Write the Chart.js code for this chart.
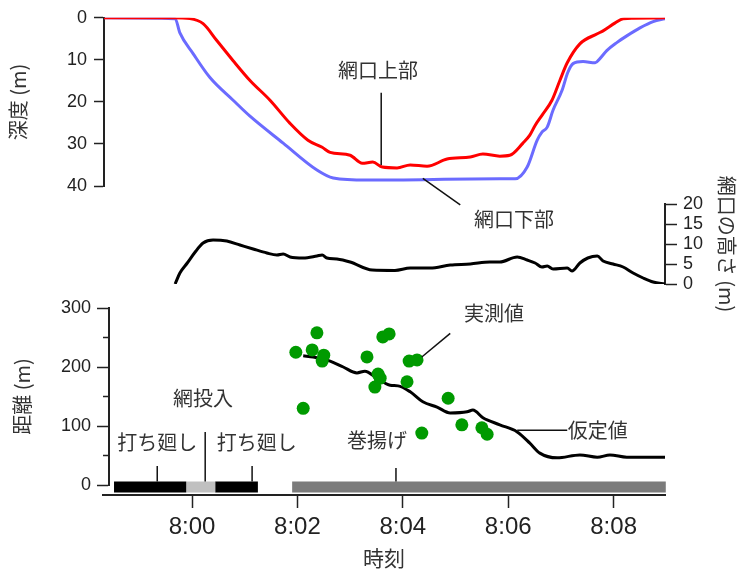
<!DOCTYPE html>
<html lang="ja">
<head>
<meta charset="UTF-8">
<title>網口の深度・高さ・距離</title>
<script src="https://cdn.jsdelivr.net/npm/chart.js"></script>
<style>
  body { margin: 0; background: #fff; }
  #wrap { position: relative; width: 745px; height: 571px; }
  #wrap canvas { position: absolute; left: 0; }
</style>
</head>
<body>
<div id="wrap">
  <canvas id="depthChart" width="745" height="230" style="top:0"></canvas>
  <canvas id="heightChart" width="745" height="170" style="top:150px"></canvas>
  <canvas id="distChart" width="745" height="220" style="top:290px"></canvas>
  <canvas id="timeAxis" width="745" height="131" style="top:440px"></canvas>
</div>
<script>
// time is in minutes after 8:00

// depth of the net mouth (m)
const upperTime  = [-1.67, -0.36, -0.04, 0.21, 0.47, 0.78, 1.10, 1.48, 1.86, 2.20, 2.47, 2.62, 3.00, 3.23, 3.43, 3.61, 3.89, 4.14, 4.46, 4.84, 5.28, 5.52, 5.84, 6.03, 6.28, 6.41, 6.51, 6.64, 6.83, 6.98, 7.12, 7.36, 7.69, 7.80, 8.03, 8.18, 8.37, 8.975];
const upperDepth = [0, 0, 0.2, 1.4, 5.4, 10.2, 14.9, 19.6, 25.1, 29.1, 30.8, 32.0, 32.7, 34.6, 34.3, 35.5, 35.7, 35.0, 35.3, 33.6, 33.1, 32.4, 32.9, 32.7, 29.8, 27.9, 25.6, 23.2, 19.6, 14.9, 10.7, 6.2, 3.8, 3.1, 1.2, 0.2, 0.1, 0];
const lowerTime  = [-1.67, -0.32, -0.23, 0.02, 0.34, 0.78, 1.10, 1.73, 2.37, 2.68, 3.32, 5.84, 6.13, 6.36, 6.55, 6.64, 6.74, 6.85, 7.02, 7.13, 7.23, 7.42, 7.65, 7.74, 7.87, 8.06, 8.25, 8.50, 8.75, 8.975];
const lowerDepth = [0, 0.2, 3.6, 8.5, 14.2, 19.6, 23.4, 29.8, 36.2, 38.1, 38.6, 38.3, 38.3, 35.5, 29.1, 27.2, 26.0, 22.0, 17.3, 13.0, 10.9, 10.4, 10.7, 9.7, 7.8, 5.9, 4.3, 2.4, 0.9, 0.2];

// height of the net mouth (m)
const heightTime  = [-0.32, -0.23, -0.09, 0.06, 0.21, 0.40, 0.66, 0.91, 1.16, 1.42, 1.61, 1.73, 1.86, 2.11, 2.37, 2.47, 2.56, 2.75, 3.00, 3.42, 3.85, 4.14, 4.52, 4.90, 5.28, 5.65, 5.84, 6.17, 6.36, 6.51, 6.64, 6.74, 6.85, 7.12, 7.21, 7.36, 7.51, 7.69, 7.80, 7.99, 8.18, 8.37, 8.56, 8.75, 8.975];
const heightValue = [0, 2.75, 5.25, 8.0, 10.25, 11.0, 10.75, 9.75, 8.75, 7.75, 7.25, 7.5, 6.75, 6.5, 7.0, 7.25, 6.5, 6.25, 5.5, 3.5, 3.4, 4.0, 4.0, 4.75, 5.0, 5.5, 5.5, 6.75, 6.0, 5.25, 4.25, 4.5, 3.75, 4.0, 3.25, 5.25, 6.5, 7.0, 5.75, 5.0, 4.25, 2.75, 1.5, 0.5, 0];

// distance (m)
const measTime = [1.97, 2.11, 2.28, 2.37, 2.47, 2.50, 3.32, 3.47, 3.53, 3.57, 3.62, 3.74, 4.08, 4.12, 4.27, 4.36, 4.86, 5.12, 5.50, 5.60];
const measDist = [225, 130, 229, 258, 210, 220, 217, 166, 188, 181, 251, 256, 175, 210, 212, 88, 147, 102, 97, 86];
const assumedTime = [2.11, 2.30, 2.62, 2.87, 3.13, 3.28, 3.51, 3.76, 3.91, 4.14, 4.38, 4.65, 4.90, 5.22, 5.33, 5.52, 5.84, 6.17, 6.41, 6.60, 6.93, 7.36, 7.69, 7.93, 8.25, 8.63, 8.975];
const assumedDist = [219, 217, 210, 200, 190, 193, 181, 169, 168, 158, 141, 132, 122, 124, 127, 114, 102, 90, 71, 54, 46, 51, 47, 51, 47, 47, 47];

// operation phases along the time axis
const phaseName  = ['打ち廻し', '網投入', '打ち廻し', '巻揚げ'];
const phaseStart = [-1.48, -0.11, 0.44, 1.90];
const phaseEnd   = [-0.11, 0.44, 1.25, 8.99];

const xTickTimes  = [0, 2, 4, 6, 8];
const xTickLabels = ['8:00', '8:02', '8:04', '8:06', '8:08'];

// ---- styling / layout ----
const ink = '#222';
const textInk = '#333';
const numFont = { family: '"Liberation Sans", Arial, sans-serif', size: 18 };
const jpFont = { family: '"Noto Sans CJK JP", sans-serif', size: 20 };
const phaseColor = ['#000000', '#c0c0c0', '#000000', '#7b7b7b'];
const barLevel = -3.4;
const T_MAX = 8.975;
const PX_PER_MIN = 52.7;
const xMinFor = left => T_MAX - (665 - left) / PX_PER_MIN;

const xy = (xs, ys) => xs.map((x, i) => ({ x, y: ys[i] }));

const base = {
  responsive: false,
  animation: false,
  events: [],
  plugins: { legend: { display: false }, tooltip: { enabled: false } }
};

const axisStyle = (extra) => Object.assign({
  grid: { drawOnChartArea: false, tickLength: 10, tickWidth: 1.5, tickColor: ink },
  border: { color: ink, width: 2 }
}, extra);

// text labels and leader lines, given in data units
const notes = (labels, lines) => ({
  id: 'notes',
  afterDatasetsDraw(chart) {
    const { ctx, scales } = chart;
    const X = v => scales.x.getPixelForValue(v);
    const Y = v => scales.y.getPixelForValue(v);
    ctx.save();
    ctx.strokeStyle = '#111';
    ctx.lineWidth = 1.5;
    lines.forEach(([x1, y1, x2, y2]) => {
      ctx.beginPath();
      ctx.moveTo(X(x1), Y(y1));
      ctx.lineTo(X(x2), Y(y2));
      ctx.stroke();
    });
    ctx.fillStyle = textInk;
    ctx.font = jpFont.size + 'px ' + jpFont.family;
    ctx.textAlign = 'center';
    ctx.textBaseline = 'middle';
    labels.forEach(([text, x, y]) => ctx.fillText(text, X(x), Y(y)));
    ctx.restore();
  }
});

// ---- depth ----
new Chart(document.getElementById('depthChart'), {
  type: 'line',
  data: {
    datasets: [
      { data: xy(upperTime, upperDepth), borderColor: '#ff0000', borderWidth: 3, pointRadius: 0, cubicInterpolationMode: 'monotone' },
      { data: xy(lowerTime, lowerDepth), borderColor: '#6b6bff', borderWidth: 3, pointRadius: 0, cubicInterpolationMode: 'monotone' }
    ]
  },
  options: Object.assign({}, base, {
    layout: { padding: { left: 0, right: 80, top: 17, bottom: 44 } },
    scales: {
      x: { type: 'linear', display: false, min: xMinFor(104), max: T_MAX },
      y: axisStyle({
        reverse: true, min: 0, max: 40,
        afterFit: s => { s.width = 104; },
        ticks: { stepSize: 10, font: numFont, color: ink, padding: 7 },
        title: { display: true, text: '深度 (m)', font: jpFont, color: textInk, padding: { top: 6 } }
      })
    }
  }),
  plugins: [notes(
    [['網口上部', 3.53, 12.5], ['網口下部', 6.11, 48.0]],
    [[3.59, 17.8, 3.59, 35.0], [4.38, 38.2, 5.09, 44.5]]
  )]
});

// ---- net mouth height ----
new Chart(document.getElementById('heightChart'), {
  type: 'line',
  data: {
    datasets: [
      { data: xy(heightTime, heightValue), borderColor: '#000', borderWidth: 3, pointRadius: 0, cubicInterpolationMode: 'monotone' }
    ]
  },
  options: Object.assign({}, base, {
    layout: { padding: { left: 104, right: 0, top: 54, bottom: 36 } },
    scales: {
      x: { type: 'linear', display: false, min: xMinFor(104), max: T_MAX },
      y: axisStyle({
        position: 'right', min: 0, max: 20,
        afterFit: s => { s.width = 80; },
        grid: { drawOnChartArea: false, tickLength: 12, tickWidth: 1.5, tickColor: ink },
        ticks: { stepSize: 5, autoSkip: false, font: Object.assign({ lineHeight: 1 }, numFont), color: ink, padding: 6 },
        title: { display: true, text: '網口の高さ (m)', font: jpFont, color: textInk, padding: { top: 6 } }
      })
    }
  })
});

// ---- distance ----
const phaseSets = phaseStart.map((s, i) => ({
  data: [{ x: s, y: barLevel }, { x: phaseEnd[i], y: barLevel }],
  borderColor: phaseColor[i], borderWidth: 11, borderCapStyle: 'butt',
  pointRadius: 0, clip: false, order: 2
}));

new Chart(document.getElementById('distChart'), {
  type: 'line',
  data: {
    datasets: [
      { type: 'scatter', data: xy(measTime, measDist), backgroundColor: '#009a00', borderWidth: 0, pointRadius: 6.5, order: 0 },
      { data: xy(assumedTime, assumedDist), borderColor: '#000', borderWidth: 3, pointRadius: 0, cubicInterpolationMode: 'monotone', order: 1 }
    ].concat(phaseSets)
  },
  options: Object.assign({}, base, {
    layout: { padding: { left: 0, right: 80, top: 18, bottom: 25 } },
    scales: {
      x: { type: 'linear', display: false, min: xMinFor(109), max: T_MAX },
      y: axisStyle({
        min: 0, max: 300, weight: 1,
        afterFit: s => { s.width = 109; },
        grid: { drawOnChartArea: false, tickLength: 12, tickWidth: 1.5, tickColor: ink },
        ticks: { stepSize: 100, font: numFont, color: ink, padding: 6 },
        title: { display: true, text: '距離 (m)', font: jpFont, color: textInk, padding: { top: 10 } }
      }),
      yMinor: {
        position: 'left', min: 0, max: 300, weight: 0,
        afterFit: s => { s.width = 0; },
        afterBuildTicks: s => { s.ticks = [50, 150, 250].map(value => ({ value })); },
        ticks: { display: false },
        grid: { drawOnChartArea: false, tickLength: 6, tickWidth: 1.5, tickColor: ink },
        border: { display: false }
      }
    }
  }),
  plugins: [notes(
    [[phaseName[0], -0.66, 73], [phaseName[1], 0.21, 146], [phaseName[2], 1.23, 73], [phaseName[3], 3.51, 76],
     ['実測値', 5.73, 290], ['仮定値', 7.70, 93]],
    [[-0.66, 32, -0.66, 6], [0.25, 90, 0.25, 6], [1.14, 32, 1.14, 6], [3.87, 29, 3.87, 6],
     [4.90, 257, 4.36, 217], [6.17, 93, 7.12, 93]]
  )]
});

// ---- shared time axis ----
new Chart(document.getElementById('timeAxis'), {
  type: 'line',
  data: { datasets: [] },
  options: Object.assign({}, base, {
    layout: { padding: { left: 103, right: 80, top: 0, bottom: 0 } },
    scales: {
      x: axisStyle({
        type: 'linear', min: xMinFor(103), max: T_MAX,
        afterFit: s => { s.height = 76; },
        afterBuildTicks: s => { s.ticks = xTickTimes.map(value => ({ value })); },
        grid: { drawOnChartArea: false, tickLength: 13, tickWidth: 1.5, tickColor: ink },
        ticks: { autoSkip: false, maxRotation: 0, font: Object.assign({}, numFont, { size: 24 }), color: ink, padding: 5,
                 callback: (v, i) => xTickLabels[i] },
        title: { display: true, text: '時刻', font: Object.assign({}, jpFont, { size: 21 }), color: textInk, padding: { top: 0, bottom: 0 } }
      }),
      y: { display: false, min: 0, max: 1 }
    }
  })
});
</script>
</body>
</html>
